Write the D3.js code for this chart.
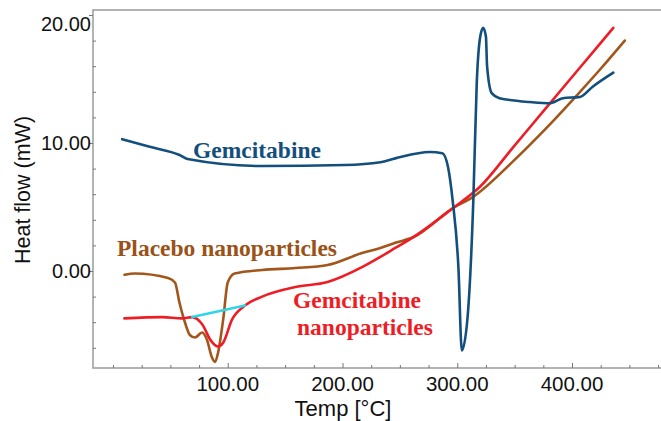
<!DOCTYPE html>
<html>
<head>
<meta charset="utf-8">
<script src="https://cdn.jsdelivr.net/npm/d3@7"></script>
<style>
  body { margin: 0; background: #fff; }
  svg { display: block; }
</style>
</head>
<body>
<svg id="chart" width="661" height="421"></svg>
<script>
// temperature (°C) / heat flow (mW)
const gemTemp = [8, 32, 58, 65, 130, 202, 233, 246, 276, 287, 292, 296, 301, 304, 309, 314, 317, 320, 322.6, 325, 326, 330, 337, 343, 363, 381, 392, 407, 418, 436];
const gemFlow = [10.3, 9.7, 9.06, 8.75, 8.2, 8.28, 8.5, 8.8, 9.3, 9.2, 8.1, 5.5, 0.3, -6.2, -3.6, 5.5, 14.7, 18.3, 19.0, 18.3, 16, 13.9, 13.5, 13.4, 13.2, 13.1, 13.5, 13.6, 14.4, 15.5];

const placeboTemp = [10, 19, 48, 54, 58, 63, 67, 71.5, 77.6, 82, 86, 89, 91.5, 96, 100, 106, 130, 159, 187, 217, 233, 246, 262, 296, 314, 349, 378, 407, 425, 446];
const placeboFlow = [-0.3, -0.2, -0.55, -0.9, -2.5, -4.1, -5.0, -5.2, -4.8, -5.4, -6.7, -7.1, -6.4, -3.8, -0.9, -0.2, 0.08, 0.23, 0.47, 1.4, 1.8, 2.2, 2.66, 4.9, 5.8, 8.6, 11.2, 14.0, 15.8, 18.0];

const gemNanoTemp = [10, 43, 60, 69, 78, 85, 91.5, 96, 103.7, 115, 130, 159, 187, 217, 233, 246, 262, 296, 320, 349, 378, 407, 436];
const gemNanoFlow = [-3.7, -3.6, -3.7, -3.6, -4.2, -5.4, -5.9, -5.6, -3.8, -2.7, -2.0, -1.25, -0.86, 0.3, 1.1, 1.8, 2.66, 4.9, 6.6, 9.7, 12.8, 15.9, 19.0];

// baseline drawn across the gemcitabine nanoparticle peak
const baseTemp = [69, 115];
const baseFlow = [-3.6, -2.7];

const xMajor = [100, 200, 300, 400];
const yMajor = [0, 10, 20];

const svg = d3.select("#chart");

const x = d3.scaleLinear().domain([0, 400]).range([113, 572]);
const y = d3.scaleLinear().domain([0, 20]).range([271, 15]);

const frameL = 93, frameR = 661, frameT = 10, frameB = 368;
const sans = "Liberation Sans, Arial, sans-serif";

// frame
svg.append("path")
  .attr("d", `M${frameR},${frameT}H${frameL}V${frameB}H${frameR}`)
  .attr("fill", "none")
  .attr("stroke", "#9a9a9a")
  .attr("stroke-width", 1.5);

// minor ticks, pointing into the plot
const xMinor = d3.range(0, 476, 25).filter(d => xMajor.indexOf(d) < 0);
const yMinor = d3.range(-6, 21, 2).filter(d => yMajor.indexOf(d) < 0);

svg.append("g")
  .attr("transform", `translate(0,${frameB})`)
  .call(d3.axisTop(x).tickValues(xMinor).tickSize(3).tickFormat(""))
  .call(g => g.select(".domain").remove())
  .call(g => g.selectAll("line").attr("stroke", "#777"));

svg.append("g")
  .attr("transform", `translate(${frameL},0)`)
  .call(d3.axisRight(y).tickValues(yMinor).tickSize(3).tickFormat(""))
  .call(g => g.select(".domain").remove())
  .call(g => g.selectAll("line").attr("stroke", "#777"));

// major ticks and labels
svg.append("g")
  .attr("transform", `translate(0,${frameB})`)
  .call(d3.axisTop(x).tickValues(xMajor).tickSize(5).tickFormat(""))
  .call(g => g.select(".domain").remove())
  .call(g => g.selectAll("line").attr("stroke", "#777"));

svg.append("g").selectAll("text")
  .data(xMajor)
  .join("text")
  .attr("x", d => x(d))
  .attr("y", 391)
  .attr("text-anchor", "middle")
  .attr("font-family", sans)
  .attr("font-size", 20.5)
  .attr("fill", "#111")
  .text(d3.format(".2f"));

svg.append("g")
  .attr("transform", `translate(${frameL},0)`)
  .call(d3.axisLeft(y).tickValues(yMajor).tickSize(4).tickFormat(""))
  .call(g => g.select(".domain").remove())
  .call(g => g.selectAll("line").attr("stroke", "#777"));

svg.append("g").selectAll("text")
  .data(yMajor)
  .join("text")
  .attr("x", 91)
  .attr("y", d => y(d) + (d === 20 ? 9 : 0))
  .attr("dy", "0.35em")
  .attr("text-anchor", "end")
  .attr("font-family", sans)
  .attr("font-size", 20)
  .attr("fill", "#111")
  .text(d3.format(".2f"));

// axis titles
svg.append("text")
  .attr("x", 343)
  .attr("y", 416)
  .attr("text-anchor", "middle")
  .attr("font-family", sans)
  .attr("font-size", 22)
  .attr("fill", "#111")
  .text("Temp [°C]");

svg.append("text")
  .attr("transform", "translate(30,190) rotate(-90)")
  .attr("text-anchor", "middle")
  .attr("font-family", sans)
  .attr("font-size", 21.5)
  .attr("fill", "#111")
  .text("Heat flow (mW)");

// curves
const line = d3.line()
  .x(d => x(d[0]))
  .y(d => y(d[1]))
  .curve(d3.curveMonotoneX);

const series = [
  { t: placeboTemp, v: placeboFlow, color: "#a2561b" },
  { t: gemNanoTemp, v: gemNanoFlow, color: "#ee1d25" },
  { t: gemTemp, v: gemFlow, color: "#134f7c" },
  { t: baseTemp, v: baseFlow, color: "#2fd6e6" }
];

svg.append("g").selectAll("path")
  .data(series)
  .join("path")
  .attr("d", s => line(d3.zip(s.t, s.v)))
  .attr("fill", "none")
  .attr("stroke", s => s.color)
  .attr("stroke-width", 2.6)
  .attr("stroke-linejoin", "round")
  .attr("stroke-linecap", "round");

// curve labels
const serif = "Liberation Serif, Times New Roman, serif";
const labels = [
  { text: "Gemcitabine", x: 193, y: 158, color: "#134f7c" },
  { text: "Placebo nanoparticles", x: 117, y: 256, color: "#9a5216" },
  { text: "Gemcitabine", x: 293, y: 308, color: "#ee1d25" },
  { text: "nanoparticles", x: 297, y: 335, color: "#ee1d25" }
];

svg.append("g").selectAll("text")
  .data(labels)
  .join("text")
  .attr("x", d => d.x)
  .attr("y", d => d.y)
  .attr("font-family", serif)
  .attr("font-weight", "bold")
  .attr("font-size", 23.5)
  .attr("fill", d => d.color)
  .text(d => d.text);
</script>
</body>
</html>
